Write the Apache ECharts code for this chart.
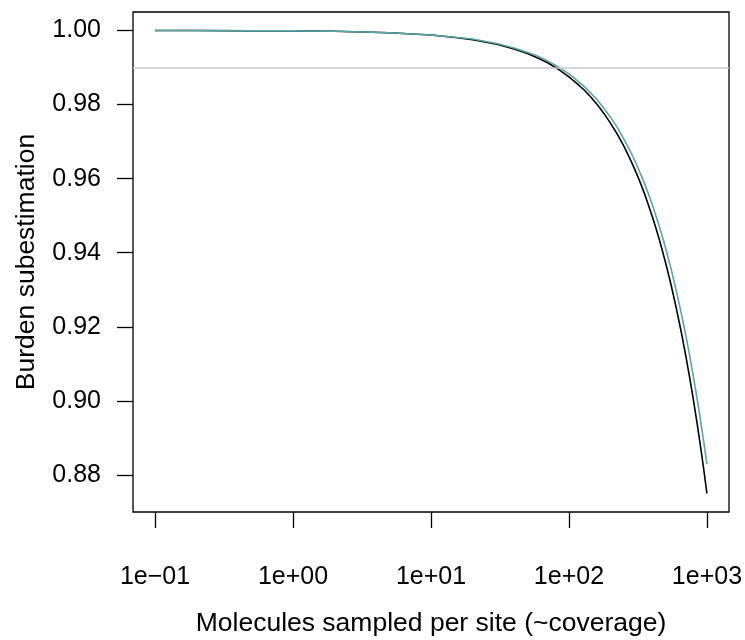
<!DOCTYPE html>
<html>
<head>
<meta charset="utf-8">
<script src="https://cdn.jsdelivr.net/npm/echarts@6/dist/echarts.min.js"></script>
<style>
  html, body { margin: 0; padding: 0; background: #ffffff; }
  #chart { width: 745px; height: 640px; }
</style>
</head>
<body>
<div id="chart"></div>
<script>
// Molecules sampled per site (coverage)
const coverage = [0.1, 0.2, 0.5, 1, 2, 5, 10, 15, 20, 30, 40, 50, 60, 70, 85, 100, 115, 130, 145, 160, 180, 200, 225, 250, 275, 300, 325, 350, 375, 400, 425, 450, 475, 500, 550, 600, 650, 700, 750, 800, 850, 900, 950, 1000];
// black curve
const blackValues = [1.0000, 1.0000, 0.9999, 0.9999, 0.9998, 0.9994, 0.9988, 0.9981, 0.9975, 0.9963, 0.9950, 0.9938, 0.9925, 0.9913, 0.9894, 0.9875, 0.9856, 0.9838, 0.9819, 0.9800, 0.9775, 0.9750, 0.9719, 0.9688, 0.9656, 0.9625, 0.9594, 0.9563, 0.9531, 0.9500, 0.9469, 0.9438, 0.9406, 0.9375, 0.9313, 0.9250, 0.9188, 0.9125, 0.9063, 0.9000, 0.8938, 0.8875, 0.8813, 0.8750];
// teal curve
const tealValues = [1.0000, 1.0000, 0.9999, 0.9999, 0.9998, 0.9994, 0.9988, 0.9982, 0.9977, 0.9965, 0.9953, 0.9941, 0.9930, 0.9918, 0.9900, 0.9883, 0.9865, 0.9848, 0.9830, 0.9813, 0.9789, 0.9766, 0.9737, 0.9707, 0.9678, 0.9649, 0.9619, 0.9590, 0.9561, 0.9532, 0.9502, 0.9473, 0.9444, 0.9415, 0.9356, 0.9297, 0.9239, 0.9180, 0.9122, 0.9063, 0.9005, 0.8946, 0.8888, 0.8829];
// reference level
const refLevel = 0.99;
// ticks
const xTickValues = [0.1, 1, 10, 100, 1000];
const xTickLabels = ['1e\u221201', '1e+00', '1e+01', '1e+02', '1e+03'];
const yTickValues = [0.88, 0.90, 0.92, 0.94, 0.96, 0.98, 1.00];
const yTickLabels = ['0.88', '0.90', '0.92', '0.94', '0.96', '0.98', '1.00'];

const FONT = '"Liberation Sans", Arial, Helvetica, sans-serif';
const xLogTicks = xTickValues.map(v => Math.log10(v));
const xLabelMap = {};
xLogTicks.forEach((v, i) => { xLabelMap[v.toFixed(3)] = xTickLabels[i]; });
const yLabelMap = {};
yTickValues.forEach((v, i) => { yLabelMap[v.toFixed(3)] = yTickLabels[i]; });

const toPairs = vals => coverage.map((c, i) => [Math.log10(c), vals[i]]);

const chart = echarts.init(document.getElementById('chart'), null, { renderer: 'canvas' });
chart.setOption({
  animation: false,
  backgroundColor: '#ffffff',
  grid: {
    left: 133, right: 16, top: 12, bottom: 128,
    show: true, borderColor: '#000000', borderWidth: 1.3,
    backgroundColor: 'transparent',
    outerBoundsMode: 'none'
  },
  xAxis: {
    type: 'value',
    min: -1.16, max: 3.16,
    name: 'Molecules sampled per site (~coverage)',
    nameLocation: 'middle',
    nameGap: 98,
    nameTextStyle: { fontFamily: FONT, fontSize: 26.5, color: '#000' },
    axisLine: { show: false, onZero: false },
    splitLine: { show: false },
    axisTick: { show: true, length: 16, lineStyle: { color: '#000', width: 1.3 }, customValues: xLogTicks },
    axisLabel: {
      customValues: xLogTicks,
      margin: 53, fontFamily: FONT, fontSize: 25, color: '#000',
      formatter: v => xLabelMap[Number(v).toFixed(3)] || ''
    }
  },
  yAxis: {
    type: 'value',
    min: 0.87, max: 1.005,
    name: 'Burden subestimation',
    nameLocation: 'middle',
    nameGap: 93,
    nameTextStyle: { fontFamily: FONT, fontSize: 26.5, color: '#000' },
    axisLine: { show: false, onZero: false },
    splitLine: { show: false },
    axisTick: { show: true, length: 16, lineStyle: { color: '#000', width: 1.3 }, customValues: yTickValues },
    axisLabel: {
      customValues: yTickValues,
      margin: 32, fontFamily: FONT, fontSize: 25, color: '#000',
      formatter: v => yLabelMap[Number(v).toFixed(3)] || ''
    }
  },
  series: [
    {
      type: 'line', name: 'ref', data: [], silent: true,
      markLine: {
        silent: true, symbol: 'none', animation: false,
        label: { show: false },
        lineStyle: { color: '#c8c8c8', width: 1.6, type: 'solid' },
        data: [{ yAxis: refLevel }]
      }
    },
    {
      type: 'line', name: 'black', data: toPairs(blackValues),
      showSymbol: false, symbol: 'none', smooth: false,
      lineStyle: { color: '#000000', width: 1.6 }
    },
    {
      type: 'line', name: 'teal', data: toPairs(tealValues),
      showSymbol: false, symbol: 'none', smooth: false,
      lineStyle: { color: '#5aa6a7', width: 1.6 }
    }
  ]
});
</script>
</body>
</html>
